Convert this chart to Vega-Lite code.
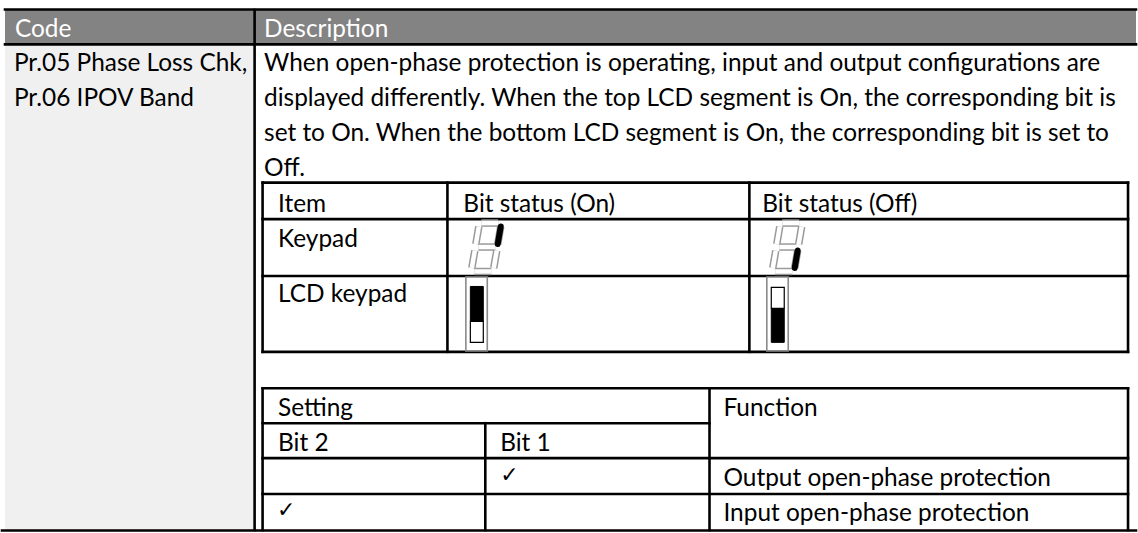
{
  "$schema": "https://vega.github.io/schema/vega-lite/v6.json",
  "width": 1138,
  "height": 533,
  "padding": 0,
  "autosize": {"type": "fit", "contains": "padding"},
  "background": "white",
  "config": {"view": {"stroke": null}},
  "encoding": {
    "x": {"field": "x", "type": "quantitative", "scale": {"domain": [0, 1138], "nice": false, "zero": false}, "axis": null},
    "y": {"field": "y", "type": "quantitative", "scale": {"domain": [0, 533], "reverse": true, "nice": false, "zero": false}, "axis": null}
  },
  "layer": [
    {
      "data": {"values": [
        {"part": "head", "x": 3, "x2": 1138, "y": 10, "y2": 44},
        {"part": "code", "x": 3, "x2": 253, "y": 45, "y2": 531}
      ]},
      "mark": {"type": "rect"},
      "encoding": {
        "x2": {"field": "x2"},
        "y2": {"field": "y2"},
        "color": {"field": "part", "type": "nominal", "scale": {"domain": ["head", "code"], "range": ["#838383", "#f0f0f0"]}, "legend": null}
      }
    },
    {
      "data": {"values": [
        {"x": 3, "y": 9.5, "x2": 1138, "y2": 9.5},
        {"x": 3, "y": 44.5, "x2": 1138, "y2": 44.5},
        {"x": 253.5, "y": 10, "x2": 253.5, "y2": 531},
        {"x": 0, "y": 531.5, "x2": 1138, "y2": 531.5},
        {"x": 261.5, "y": 183, "x2": 1130, "y2": 183},
        {"x": 261.5, "y": 219.5, "x2": 1130, "y2": 219.5},
        {"x": 261.5, "y": 276.5, "x2": 1130, "y2": 276.5},
        {"x": 261.5, "y": 352.5, "x2": 1130, "y2": 352.5},
        {"x": 261.5, "y": 183, "x2": 261.5, "y2": 352.5},
        {"x": 447, "y": 183, "x2": 447, "y2": 352.5},
        {"x": 750, "y": 183, "x2": 750, "y2": 352.5},
        {"x": 1130, "y": 183, "x2": 1130, "y2": 352.5},
        {"x": 261.5, "y": 389, "x2": 1130, "y2": 389},
        {"x": 261.5, "y": 424, "x2": 710, "y2": 424},
        {"x": 261.5, "y": 459, "x2": 1130, "y2": 459},
        {"x": 261.5, "y": 495, "x2": 1130, "y2": 495},
        {"x": 261.5, "y": 389, "x2": 261.5, "y2": 531},
        {"x": 485, "y": 424, "x2": 485, "y2": 531},
        {"x": 710, "y": 389, "x2": 710, "y2": 531},
        {"x": 1130, "y": 389, "x2": 1130, "y2": 531}
      ]},
      "mark": {"type": "rule", "color": "black", "strokeWidth": 2.6, "strokeCap": "square"},
      "encoding": {"x2": {"field": "x2"}, "y2": {"field": "y2"}}
    },
    {
      "data": {"values": [
        {"digit": "on", "seg": "a", "x": 481, "y": 223.5, "x2": 498, "y2": 223.5, "lit": false},
        {"digit": "on", "seg": "b", "x": 500.5, "y": 227, "x2": 497.5, "y2": 244.5, "lit": true},
        {"digit": "on", "seg": "f", "x": 478.5, "y": 227, "x2": 475.5, "y2": 244.5, "lit": false},
        {"digit": "on", "seg": "g", "x": 478, "y": 247.5, "x2": 495, "y2": 247.5, "lit": false},
        {"digit": "on", "seg": "e", "x": 474.5, "y": 251, "x2": 471.5, "y2": 268.5, "lit": false},
        {"digit": "on", "seg": "c", "x": 496.5, "y": 251, "x2": 493.5, "y2": 268.5, "lit": false},
        {"digit": "on", "seg": "d", "x": 474, "y": 272, "x2": 491, "y2": 272, "lit": false},
        {"digit": "off", "seg": "a", "x": 783, "y": 223.5, "x2": 800, "y2": 223.5, "lit": false},
        {"digit": "off", "seg": "b", "x": 802.5, "y": 227, "x2": 799.5, "y2": 244.5, "lit": false},
        {"digit": "off", "seg": "f", "x": 780.5, "y": 227, "x2": 777.5, "y2": 244.5, "lit": false},
        {"digit": "off", "seg": "g", "x": 780, "y": 247.5, "x2": 797, "y2": 247.5, "lit": false},
        {"digit": "off", "seg": "e", "x": 776.5, "y": 251, "x2": 773.5, "y2": 268.5, "lit": false},
        {"digit": "off", "seg": "c", "x": 798.5, "y": 251, "x2": 795.5, "y2": 268.5, "lit": true},
        {"digit": "off", "seg": "d", "x": 776, "y": 272, "x2": 793, "y2": 272, "lit": false}
      ]},
      "layer": [
        {
          "mark": {"type": "rule", "color": "#9a9a9a", "strokeWidth": 7.5, "strokeCap": "butt"},
          "encoding": {"x2": {"field": "x2"}, "y2": {"field": "y2"}}
        },
        {
          "mark": {"type": "rule", "color": "white", "strokeWidth": 4.5, "strokeCap": "butt"},
          "encoding": {"x2": {"field": "x2"}, "y2": {"field": "y2"}}
        },
        {
          "transform": [{"filter": "datum.lit"}],
          "mark": {"type": "rule", "color": "black", "strokeWidth": 6, "strokeCap": "round"},
          "encoding": {"x2": {"field": "x2"}, "y2": {"field": "y2"}}
        }
      ]
    },
    {
      "data": {"values": [
        {"box": "outer", "x": 465.5, "x2": 487, "y": 277.5, "y2": 351.5},
        {"box": "outer", "x": 767.5, "x2": 789, "y": 277.5, "y2": 351.5},
        {"box": "dark", "x": 470, "x2": 483, "y": 287, "y2": 322},
        {"box": "light", "x": 470, "x2": 483, "y": 322, "y2": 343},
        {"box": "light", "x": 772, "x2": 785, "y": 288, "y2": 309},
        {"box": "dark", "x": 772, "x2": 785, "y": 309, "y2": 343}
      ]},
      "layer": [
        {
          "transform": [{"filter": "datum.box === 'outer'"}],
          "mark": {"type": "rect", "fill": "white", "stroke": "#8a8a8a", "strokeWidth": 1.6},
          "encoding": {"x2": {"field": "x2"}, "y2": {"field": "y2"}}
        },
        {
          "transform": [{"filter": "datum.box === 'dark'"}],
          "mark": {"type": "rect", "fill": "black", "stroke": "black", "strokeWidth": 1},
          "encoding": {"x2": {"field": "x2"}, "y2": {"field": "y2"}}
        },
        {
          "transform": [{"filter": "datum.box === 'light'"}],
          "mark": {"type": "rect", "fill": "white", "stroke": "black", "strokeWidth": 1.2},
          "encoding": {"x2": {"field": "x2"}, "y2": {"field": "y2"}}
        }
      ]
    },
    {
      "data": {"values": [
        {"x": 13, "y": 37, "label": "Code"},
        {"x": 263, "y": 37, "label": "Description"}
      ]},
      "mark": {"type": "text", "align": "left", "baseline": "alphabetic", "font": "Lato, sans-serif", "fontSize": 24.4, "color": "white"},
      "encoding": {"text": {"field": "label"}}
    },
    {
      "data": {"values": [
        {"x": 12, "y": 71, "label": "Pr.05 Phase Loss Chk,"},
        {"x": 12, "y": 106, "label": "Pr.06 IPOV Band"},
        {"x": 263, "y": 71, "label": "When open-phase protection is operating, input and output configurations are"},
        {"x": 263, "y": 106, "label": "displayed differently. When the top LCD segment is On, the corresponding bit is"},
        {"x": 263, "y": 141, "label": "set to On. When the bottom LCD segment is On, the corresponding bit is set to"},
        {"x": 263, "y": 176, "label": "Off."},
        {"x": 277, "y": 212, "label": "Item"},
        {"x": 463, "y": 212, "label": "Bit status (On)"},
        {"x": 763, "y": 212, "label": "Bit status (Off)"},
        {"x": 277, "y": 247, "label": "Keypad"},
        {"x": 277, "y": 303, "label": "LCD keypad"},
        {"x": 277, "y": 417, "label": "Setting"},
        {"x": 724, "y": 417, "label": "Function"},
        {"x": 277, "y": 452, "label": "Bit 2"},
        {"x": 500, "y": 452, "label": "Bit 1"},
        {"x": 724, "y": 487, "label": "Output open-phase protection"},
        {"x": 724, "y": 522, "label": "Input open-phase protection"}
      ]},
      "mark": {"type": "text", "align": "left", "baseline": "alphabetic", "font": "Lato, sans-serif", "fontSize": 24.4, "color": "black"},
      "encoding": {"text": {"field": "label"}}
    },
    {
      "data": {"values": [
        {"x": 500, "y": 483, "label": "✓"},
        {"x": 276, "y": 518, "label": "✓"}
      ]},
      "mark": {"type": "text", "align": "left", "baseline": "alphabetic", "font": "DejaVu Sans", "fontSize": 22, "color": "black"},
      "encoding": {"text": {"field": "label"}}
    }
  ]
}
